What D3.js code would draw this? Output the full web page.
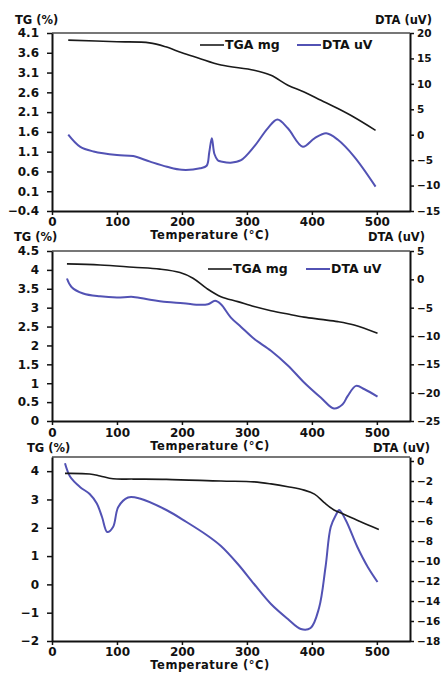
<!DOCTYPE html>
<html>
<head>
<meta charset="utf-8">
<script src="https://cdn.jsdelivr.net/npm/d3@7"></script>
<style>
  body { margin: 0; background: #fff; }
  svg text { font-family: "DejaVu Sans", "Liberation Sans", sans-serif; font-weight: bold; fill: #111; }
</style>
</head>
<body>
<div id="chart"></div>
<script>
// ---- data ----
const xTicks = [0, 100, 200, 300, 400, 500];

// panel 1
const tga1 = [[25,3.92],[100,3.88],[150,3.85],[175,3.75],[200,3.6],[225,3.47],[260,3.29],[311,3.16],[337,3.03],
  [363,2.78],[388,2.61],[414,2.4],[440,2.19],[465,1.97],[498,1.64]];
const dta1 = [[25,0],[43,-2.35],[64,-3.3],[100,-4.0],[125,-4.2],[151,-5.3],[177,-6.3],[200,-6.9],[228,-6.6],
  [238,-6.1],[242,-3.5],[246,-0.7],[250,-3.8],[255,-5.0],[262,-5.3],[275,-5.5],[291,-5.0],[311,-2.35],[332,1.26],
  [347,3.0],[363,1.26],[386,-2.35],[404,-0.7],[422,0.28],[440,-1.0],[465,-4.3],[498,-10.2]];
const tgTicks1 = [4.1, 3.6, 3.1, 2.6, 2.1, 1.6, 1.1, 0.6, 0.1, -0.4];
const dtaTicks1 = [20, 15, 10, 5, 0, -5, -10, -15];

// panel 2
const tga2 = [[23,4.16],[74,4.13],[125,4.07],[166,4.02],[197,3.93],[217,3.78],[238,3.51],[260,3.29],[286,3.16],
  [311,3.03],[337,2.92],[363,2.83],[388,2.75],[414,2.69],[440,2.63],[465,2.54],[501,2.32]];
const dta2 = [[23,0.15],[30,-1.34],[48,-2.5],[74,-3.0],[100,-3.2],[125,-3.1],[151,-3.6],[177,-4.0],[202,-4.2],
  [228,-4.5],[240,-4.4],[251,-3.8],[260,-4.4],[275,-6.7],[291,-8.4],[311,-10.5],[337,-12.6],[363,-15.2],
  [388,-18.2],[414,-20.9],[434,-22.8],[447,-22.1],[455,-20.6],[468,-18.8],[481,-19.4],[501,-20.7]];
const tgTicks2 = [4.5, 4, 3.5, 3, 2.5, 2, 1.5, 1, 0.5, 0];
const dtaTicks2 = [5, 0, -5, -10, -15, -20, -25];

// panel 3
const tga3 = [[20,3.92],[58,3.9],[74,3.83],[94,3.73],[125,3.72],[176,3.71],[260,3.65],[311,3.62],[337,3.55],
  [363,3.45],[388,3.33],[404,3.19],[419,2.89],[434,2.63],[450,2.47],[475,2.21],[503,1.94]];
const dta3 = [[20,-0.23],[28,-1.58],[43,-2.6],[58,-3.3],[69,-4.26],[77,-5.6],[85,-7.1],[94,-6.6],[102,-4.6],
  [117,-3.65],[135,-3.75],[176,-4.9],[207,-6.1],[238,-7.4],[260,-8.5],[286,-10.3],[311,-12.3],[337,-14.3],
  [363,-15.8],[383,-16.8],[398,-16.7],[411,-14.7],[421,-10.6],[429,-6.6],[437,-5.4],[442,-4.9],[452,-5.9],
  [470,-8.6],[486,-10.6],[501,-12.1]];
const tgTicks3 = [4, 3, 2, 1, 0, -1, -2];
const dtaTicks3 = [0, -2, -4, -6, -8, -10, -12, -14, -16, -18];

const panels = [
  {top: 33, bottom: 211, tgDomain: [-0.4, 4.1], dtaDomain: [-15, 20], tga: tga1, dta: dta1,
   tgTicks: tgTicks1, dtaTicks: dtaTicks1, tgFmt: d3.format('.1f'), legend: {y: 45, x1: 200, x2: 297},
   tgLab: {x: 15, y: 20}, dtaLab: {x: 375, y: 20}, xLabY: 222, titleY: 235},
  {top: 251, bottom: 421, tgDomain: [0, 4.5], dtaDomain: [-25, 5], tga: tga2, dta: dta2,
   tgTicks: tgTicks2, dtaTicks: dtaTicks2, tgFmt: d3.format(''), legend: {y: 269, x1: 208, x2: 306},
   tgLab: {x: 14, y: 237}, dtaLab: {x: 368, y: 237}, xLabY: 433, titleY: 446},
  {top: 457, bottom: 641, tgDomain: [-2, 4.5], dtaDomain: [-18, 0.4], tga: tga3, dta: dta3,
   tgTicks: tgTicks3, dtaTicks: dtaTicks3, tgFmt: d3.format(''), legend: null,
   tgLab: {x: 27, y: 448}, dtaLab: {x: 373, y: 448}, xLabY: 652, titleY: 665}
];

const W = 442, H = 673;
const left = 52, right = 410;
const svg = d3.select('#chart').append('svg').attr('width', W).attr('height', H);

const x = d3.scaleLinear().domain([0, 551]).range([left, right]);
const blue = '#5252b4';

panels.forEach(p => {
  const yL = d3.scaleLinear().domain(p.tgDomain).range([p.bottom, p.top]);
  const yR = d3.scaleLinear().domain(p.dtaDomain).range([p.bottom, p.top]);
  const g = svg.append('g');

  // top border (gray)
  g.append('line').attr('x1', left).attr('x2', right).attr('y1', p.top).attr('y2', p.top)
    .attr('stroke', '#777').attr('stroke-width', 2);

  // axes
  const xAxis = g.append('g').attr('transform', `translate(0,${p.bottom})`)
    .call(d3.axisBottom(x).tickValues(xTicks).tickSize(4).tickPadding(3).tickSizeOuter(0));
  const lAxis = g.append('g').attr('transform', `translate(${left},0)`)
    .call(d3.axisLeft(yL).tickValues(p.tgTicks).tickFormat(p.tgFmt).tickSize(5).tickPadding(8).tickSizeOuter(0));
  const rAxis = g.append('g').attr('transform', `translate(${right},0)`)
    .call(d3.axisRight(yR).tickValues(p.dtaTicks).tickSize(4).tickPadding(3).tickSizeOuter(0));
  [xAxis, lAxis, rAxis].forEach(a => {
    a.select('.domain').attr('stroke', '#111').attr('stroke-width', 2);
    a.selectAll('.tick line').attr('stroke', '#111').attr('stroke-width', 1.5);
    a.selectAll('text').attr('font-size', 12).attr('font-family', null).attr('fill', '#111');
  });
  rAxis.selectAll('text').attr('font-size', 10.5);
  xAxis.selectAll('text').attr('y', null).attr('dy', '0.35em')
    .attr('transform', `translate(0,${p.xLabY - p.bottom})`);

  // curves
  const line = yS => d3.line().x(d => x(d[0])).y(d => yS(d[1])).curve(d3.curveCatmullRom.alpha(0.5));
  g.append('path').datum(p.dta).attr('d', line(yR)).attr('fill', 'none')
    .attr('stroke', blue).attr('stroke-width', 2);
  g.append('path').datum(p.tga).attr('d', line(yL)).attr('fill', 'none')
    .attr('stroke', '#1a1a1a').attr('stroke-width', 1.6);

  // axis titles
  g.append('text').attr('x', p.tgLab.x).attr('y', p.tgLab.y).attr('dy', '0.35em').attr('font-size', 11.5).text('TG (%)');
  g.append('text').attr('x', p.dtaLab.x).attr('y', p.dtaLab.y).attr('dy', '0.35em').attr('font-size', 11.5).text('DTA (uV)');
  g.append('text').attr('x', 210).attr('y', p.titleY).attr('dy', '0.35em').attr('text-anchor', 'middle')
    .attr('font-size', 11.5).attr('letter-spacing', 0.5).text('Temperature (°C)');

  // legend
  if (p.legend) {
    const L = p.legend;
    g.append('line').attr('x1', L.x1).attr('x2', L.x1 + 24).attr('y1', L.y).attr('y2', L.y)
      .attr('stroke', '#1a1a1a').attr('stroke-width', 1.6);
    g.append('text').attr('x', L.x1 + 25).attr('y', L.y).attr('dy', '0.35em').attr('font-size', 12.5).text('TGA mg');
    g.append('line').attr('x1', L.x2).attr('x2', L.x2 + 24).attr('y1', L.y).attr('y2', L.y)
      .attr('stroke', blue).attr('stroke-width', 2);
    g.append('text').attr('x', L.x2 + 25).attr('y', L.y).attr('dy', '0.35em').attr('font-size', 12.5).text('DTA uV');
  }
});
</script>
</body>
</html>
